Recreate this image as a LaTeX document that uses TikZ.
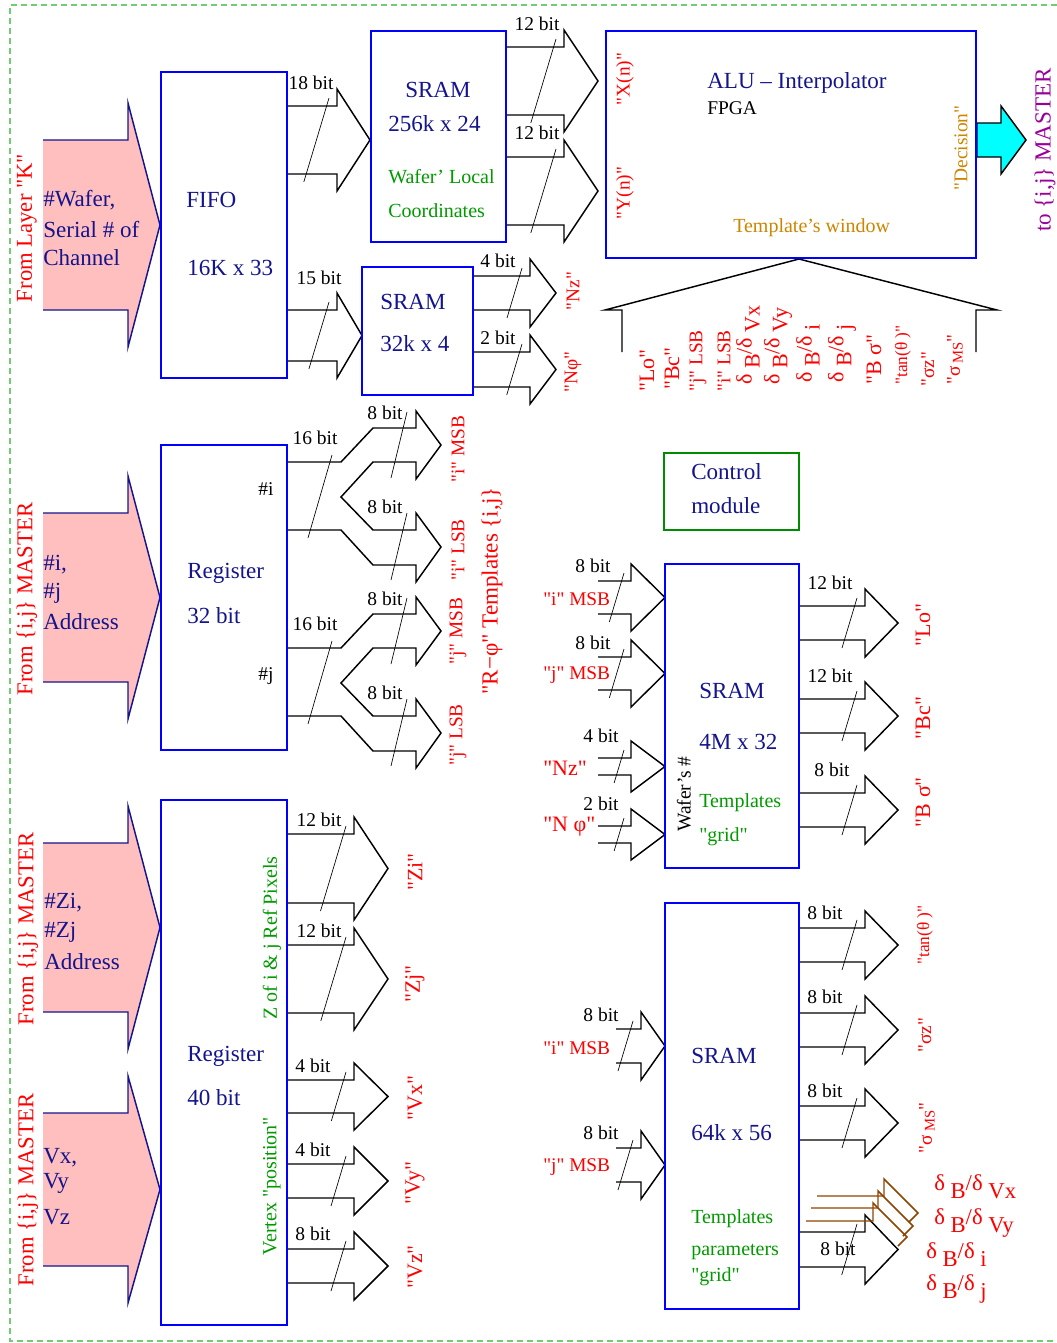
\documentclass[tikz,border=0pt]{standalone}
\usepackage{fontspec}
\setmainfont{Liberation Serif}[Ligatures=TeXOff]
\usepackage{xcolor}
\definecolor{UnitBlue}{rgb}{0, 0, 1}
\definecolor{NavyInk}{rgb}{0.08, 0.08, 0.55}
\definecolor{InPink}{rgb}{1, 0.75, 0.75}
\definecolor{TplGreen}{rgb}{0, 0.6, 0}
\definecolor{CtrlGreen}{rgb}{0, 0.55, 0}
\definecolor{FrameGreen}{rgb}{0.45, 0.8, 0.45}
\definecolor{WinOrange}{rgb}{0.8, 0.52, 0}
\definecolor{MasterPurple}{rgb}{0.6, 0, 0.6}
\definecolor{ParBrown}{rgb}{0.55, 0.27, 0}
\definecolor{DecCyan}{rgb}{0, 1, 1}

% bus arrow: x start, upper y, lower y, head base x, tip x, slash top x
\newcommand{\busarrow}[6]{%
  \draw[bus] (#1,#2) -- (#4,#2) -- (#4,#2-17) -- (#5,{(#2+#3)/2}) -- (#4,#3+17) -- (#4,#3) -- (#1,#3);
  \draw[slash] (#6,#2-8) -- ({#6-0.3*(#3-#2+16)},#3+8);
}
% pink input arrow: body top y, body bottom y
\newcommand{\inarrow}[2]{%
  \fill[InPink] (43,#1) -- (128,#1) -- (128,#1-37) -- (160,{(#1+#2)/2}) -- (128,#2+37) -- (128,#2) -- (43,#2) -- cycle;
  \draw[inline] (43,#1) -- (128,#1) -- (128,#1-37) -- (160,{(#1+#2)/2}) -- (128,#2+37) -- (128,#2) -- (43,#2);
}
\newcommand{\dBd}[1]{\raisebox{6pt}{δ} B\raisebox{6pt}{/δ} #1}

\tikzset{
  unit/.style={draw=UnitBlue, line width=2.2pt},
  ctrlunit/.style={draw=CtrlGreen, line width=2.2pt},
  bus/.style={draw=black, line width=1.1pt},
  parbus/.style={draw=ParBrown, line width=1.1pt},
  inline/.style={draw=NavyInk, line width=1.1pt},
  slash/.style={draw=black, line width=0.5pt},
  frame/.style={draw=FrameGreen, line width=0.8pt, dash pattern={on 4.5pt off 3pt}},
  navytext/.style={anchor=west, inner sep=0pt, text=NavyInk, font=\fontsize{17.3}{20}\selectfont},
  greentext/.style={inner sep=0pt, text=TplGreen, font=\fontsize{15}{18}\selectfont},
  bittext/.style={inner sep=0pt, font=\fontsize{14.6}{17}\selectfont},
  redtext/.style={inner sep=0pt, text=red, font=\fontsize{16.5}{19}\selectfont},
  redsmall/.style={inner sep=0pt, text=red, font=\fontsize{14.5}{17}\selectfont},
  upright/.style={rotate=90},
}

\begin{document}
\begin{tikzpicture}[x=0.75pt,y=0.75pt,yscale=-1,xscale=1]
\useasboundingbox (0,0) rectangle (1057,1343);

%Dashed frame
\draw[frame] (1057,5) -- (10,5) -- (10,1341) -- (1057,1341);

%Input arrows
\inarrow{140}{310}
\inarrow{513}{682}
\inarrow{843}{1012}
\inarrow{1113}{1266}

%FIFO outputs
\busarrow{287}{106}{174}{337}{370}{329}
\busarrow{287}{310}{361}{337}{362}{329}
%SRAM 256k outputs
\busarrow{506}{47}{115}{564}{598}{556}
\busarrow{506}{157}{225}{564}{598}{556}
%SRAM 32k outputs
\busarrow{473}{276}{310}{530}{556}{522}
\busarrow{473}{352}{387}{530}{556}{522}
%SRAM 4M inputs
\busarrow{598}{581}{614}{631}{665}{624}
\busarrow{598}{657}{690}{631}{665}{624}
\busarrow{598}{758}{775}{631}{665}{624}
\busarrow{598}{826}{843}{631}{665}{624}
%SRAM 4M outputs
\busarrow{799}{606}{640}{865}{898}{857}
\busarrow{799}{699}{733}{865}{898}{857}
\busarrow{799}{793}{827}{865}{898}{857}
%SRAM 64k inputs
\busarrow{616}{1029}{1063}{641}{665}{633}
\busarrow{616}{1148}{1182}{641}{665}{633}
%SRAM 64k outputs
\busarrow{799}{928}{962}{865}{898}{857}
\busarrow{799}{1013}{1047}{865}{898}{857}
\busarrow{799}{1106}{1140}{865}{898}{857}
\busarrow{799}{1232}{1267}{865}{898}{857}
%Register 40 outputs
\busarrow{287}{834}{903}{354}{388}{346}
\busarrow{287}{945}{1013}{354}{388}{346}
\busarrow{287}{1080}{1113}{354}{388}{346}
\busarrow{287}{1164}{1198}{354}{388}{346}
\busarrow{287}{1249}{1283}{354}{388}{346}

%Split bus #i
\draw[bus] (287,462) -- (341,462) -- (373,428) -- (416,428) -- (416,411) -- (441,445) -- (416,479) -- (416,462) -- (373,462) -- (341,497) -- (373,530) -- (416,530) -- (416,513) -- (441,547) -- (416,582) -- (416,565) -- (373,565) -- (341,530) -- (287,530);
\draw[slash] (332,455) -- (308,538);
\draw[slash] (407,412) -- (391,478);
\draw[slash] (407,513) -- (391,580);
%Split bus #j
\draw[bus] (287,648) -- (341,648) -- (373,614) -- (416,614) -- (416,597) -- (441,631) -- (416,665) -- (416,648) -- (373,648) -- (341,683) -- (373,716) -- (416,716) -- (416,699) -- (441,733) -- (416,768) -- (416,751) -- (373,751) -- (341,716) -- (287,716);
\draw[slash] (332,641) -- (308,724);
\draw[slash] (407,598) -- (391,664);
\draw[slash] (407,699) -- (391,766);

%Decision arrow
\draw[draw=black, fill=DecCyan, line width=1.1pt] (977,123) -- (1001,123) -- (1001,106) -- (1026,140) -- (1001,174) -- (1001,157) -- (977,157) -- cycle;

%Parameter arrows
\draw[parbus] (817,1196) -- (884,1196) -- (884,1179) -- (918,1213) -- (909,1222);
\draw[parbus] (811,1208) -- (878,1208) -- (878,1191) -- (913,1226) -- (903,1236);
\draw[parbus] (806,1221) -- (873,1221) -- (873,1203) -- (907,1237) -- (898,1246);

%Template's window bracket
\draw[bus] (622,352) -- (622,310) -- (605,310) -- (799,259) -- (997,310) -- (976,310) -- (976,352);

%Shape: Rectangles
\draw[unit] (161,72) rectangle (287,378);
\draw[unit] (371,31) rectangle (506,242);
\draw[unit] (362,267) rectangle (473,395);
\draw[unit] (606,31) rectangle (976,258);
\draw[ctrlunit] (664,453) rectangle (799,530);
\draw[unit] (161,445) rectangle (287,750);
\draw[unit] (665,564) rectangle (799,868);
\draw[unit] (161,800) rectangle (287,1325);
\draw[unit] (665,903) rectangle (799,1309);

% Text Node
\node[navytext] (fifoA) at (186,200) {FIFO};
\node[navytext] (fifoB) at (187,268) {16K x 33};
\node[navytext] (sramA) at (405,90) {SRAM};
\node[navytext] (sramB) at (388,124) {256k x 24};
\node[navytext] (smallA) at (380,302) {SRAM};
\node[navytext] (smallB) at (380,344) {32k x 4};
\node[navytext] (alu) at (707,83) {ALU – Interpolator};
\node[navytext] (ctrlA) at (691,472) {Control};
\node[navytext] (ctrlB) at (691,506) {module};
\node[navytext] (regA) at (187,573) {Register};
\node[navytext] (regB) at (187,616) {32 bit};
\node[navytext] (bigA) at (699,691) {SRAM};
\node[navytext] (bigB) at (699,742) {4M x 32};
\node[navytext] (regC) at (187,1056) {Register};
\node[navytext] (regD) at (187,1098) {40 bit};
\node[navytext] (parA) at (691,1056) {SRAM};
\node[navytext] (parB) at (691,1133) {64k x 56};
% Text Node
\node[navytext] (inA1) at (43,200) {\#Wafer,};
\node[navytext] (inA2) at (43,229) {Serial \# of};
\node[navytext] (inA3) at (43,258) {Channel};
\node[navytext] (inB1) at (43,565) {\#i,};
\node[navytext] (inB2) at (43,593) {\#j};
\node[navytext] (inB3) at (43,622) {Address};
\node[navytext] (inC1) at (44,903) {\#Zi,};
\node[navytext] (inC2) at (44,932) {\#Zj};
\node[navytext] (inC3) at (44,962) {Address};
\node[navytext] (inD1) at (43,1158) {Vx,};
\node[navytext] (inD2) at (43,1183) {Vy};
\node[navytext] (inD3) at (43,1217) {Vz};
% Text Node
\node[greentext, anchor=west] (wafA) at (388,177) {Wafer’ Local};
\node[greentext, anchor=west] (wafB) at (388,211) {Coordinates};
\node[greentext, anchor=west] (gridA) at (699,803) {Templates};
\node[greentext, anchor=west] (gridB) at (699,837) {"grid"};
\node[greentext, anchor=west] (gridC) at (691,1219) {Templates};
\node[greentext, anchor=west] (gridD) at (691,1252) {parameters};
\node[greentext, anchor=west] (gridE) at (691,1277) {"grid"};
\node[greentext, upright] (zref) at (272,938) {Z of i \& j Ref Pixels};
\node[greentext, upright] (vtx) at (272,1186) {Vertex "position"};
% Text Node
\node[bittext, anchor=west] (fpga) at (707,108) {FPGA};
\node[bittext, anchor=west] (hashi) at (258,489) {\#i};
\node[bittext, anchor=west] (hashj) at (258,676) {\#j};
\node[bittext, upright] (wnum) at (684,794) {Wafer’s \#};
\node[greentext, anchor=west, text=WinOrange] (window) at (733,228) {Template’s window};
\node[bittext, upright, text=WinOrange] (decision) at (961,148) {"Decision"};
\node[navytext, anchor=center, upright, text=MasterPurple] (tomaster) at (1045,150) {to \{i,j\} MASTER};
% Text Node
\node[bittext] (b18) at (311,83) {18 bit};
\node[bittext] (b15) at (319,278) {15 bit};
\node[bittext] (bX) at (537,24) {12 bit};
\node[bittext] (bY) at (537,133) {12 bit};
\node[bittext] (bNz) at (498,261) {4 bit};
\node[bittext] (bNp) at (498,338) {2 bit};
\node[bittext] (bi16) at (315,438) {16 bit};
\node[bittext] (bi8a) at (385,413) {8 bit};
\node[bittext] (bi8b) at (385,507) {8 bit};
\node[bittext] (bj16) at (315,624) {16 bit};
\node[bittext] (bj8a) at (385,599) {8 bit};
\node[bittext] (bj8b) at (385,693) {8 bit};
\node[bittext] (bgi) at (593,566) {8 bit};
\node[bittext] (bgj) at (593,643) {8 bit};
\node[bittext] (bgz) at (601,736) {4 bit};
\node[bittext] (bgp) at (601,804) {2 bit};
\node[bittext] (bLo) at (830,583) {12 bit};
\node[bittext] (bBc) at (830,676) {12 bit};
\node[bittext] (bBs) at (832,770) {8 bit};
\node[bittext] (bpi) at (601,1015) {8 bit};
\node[bittext] (bpj) at (601,1133) {8 bit};
\node[bittext] (bth) at (825,913) {8 bit};
\node[bittext] (bsz) at (825,997) {8 bit};
\node[bittext] (bms) at (825,1091) {8 bit};
\node[bittext] (bdb) at (838,1249) {8 bit};
\node[bittext] (bZi) at (319,820) {12 bit};
\node[bittext] (bZj) at (319,931) {12 bit};
\node[bittext] (bVx) at (313,1066) {4 bit};
\node[bittext] (bVy) at (313,1150) {4 bit};
\node[bittext] (bVz) at (313,1234) {8 bit};
% Text Node
\node[redtext, upright, font=\fontsize{17}{20}\selectfont] (fromK) at (27,228) {From Layer "K"};
\node[redtext, upright, font=\fontsize{17}{20}\selectfont] (fromA) at (27,599) {From \{i,j\} MASTER};
\node[redtext, upright, font=\fontsize{17}{20}\selectfont] (fromB) at (28,929) {From \{i,j\} MASTER};
\node[redtext, upright, font=\fontsize{17}{20}\selectfont] (fromC) at (28,1190) {From \{i,j\} MASTER};
\node[redsmall, upright] (xn) at (625,79) {"X(n)"};
\node[redsmall, upright] (yn) at (625,193) {"Y(n)"};
\node[redsmall, upright] (nzA) at (573,291) {"Nz"};
\node[redsmall, upright] (npA) at (573,372) {"Nφ"};
\node[redsmall, upright] (imsb) at (458,449) {"i" MSB};
\node[redsmall, upright] (ilsb) at (458,550) {"i" LSB};
\node[redsmall, upright] (jmsb) at (458,631) {"j" MSB};
\node[redsmall, upright] (jlsb) at (458,735) {"j" LSB};
\node[redtext, upright, font=\fontsize{17.3}{20}\selectfont] (rphi) at (492,591) {"R−φ" Templates \{i,j\}};
% Text Node
\node[redsmall, anchor=west] (gi) at (543,599) {"i" MSB};
\node[redsmall, anchor=west] (gj) at (543,675) {"j" MSB};
\node[redtext, anchor=west] (gz) at (543,768) {"Nz"};
\node[redtext, anchor=west] (gp) at (543,827) {"N φ"};
\node[redsmall, anchor=west] (pi) at (543,1048) {"i" MSB};
\node[redsmall, anchor=west] (pj) at (543,1167) {"j" MSB};
\node[redtext, upright] (oLo) at (923,625) {"Lo"};
\node[redtext, upright] (oBc) at (923,718) {"Bc"};
\node[redtext, upright] (oBs) at (923,802) {"B σ"};
\node[redtext, upright, font=\fontsize{13}{16}\selectfont] (oth) at (925,935) {"tan(θ )"};
\node[redsmall, upright] (osz) at (925,1035) {"σz"};
\node[redsmall, upright] (oms) at (927,1128) {"σ\,\raisebox{-2pt}{\fontsize{11}{13}\selectfont MS}"};
\node[redtext, upright] (oZi) at (415,872) {"Zi"};
\node[redtext, upright] (oZj) at (415,984) {"Zj"};
\node[redtext, upright] (oVx) at (415,1098) {"Vx"};
\node[redtext, upright] (oVy) at (415,1183) {"Vy"};
\node[redtext, upright] (oVz) at (415,1267) {"Vz"};
% Text Node
\node[redtext, anchor=base west, font=\fontsize{17}{20}\selectfont] (dvx) at (934,1198) {\dBd{Vx}};
\node[redtext, anchor=base west, font=\fontsize{17}{20}\selectfont] (dvy) at (934,1232) {\dBd{Vy}};
\node[redtext, anchor=base west, font=\fontsize{17}{20}\selectfont] (ddi) at (926,1266) {\dBd{i}};
\node[redtext, anchor=base west, font=\fontsize{17}{20}\selectfont] (ddj) at (926,1298) {\dBd{j}};
% Text Node
\node[redtext, upright, anchor=west] (wLo) at (647,392) {"Lo"};
\node[redtext, upright, anchor=west] (wBc) at (672,390) {"Bc"};
\node[redsmall, upright, anchor=west] (wjl) at (698,392) {"j" LSB};
\node[redsmall, upright, anchor=west] (wil) at (724,392) {"i" LSB};
\node[redtext, upright, anchor=west] (wvx) at (748,385) {\dBd{Vx}};
\node[redtext, upright, anchor=west] (wvy) at (778,385) {\dBd{Vy}};
\node[redtext, upright, anchor=west] (wdi) at (808,383) {\dBd{i}};
\node[redtext, upright, anchor=west] (wdj) at (842,383) {\dBd{j}};
\node[redtext, upright, anchor=west] (wBs) at (874,385) {"B σ"};
\node[redtext, upright, anchor=west, font=\fontsize{13}{16}\selectfont] (wth) at (903,385) {"tan(θ )"};
\node[redsmall, upright, anchor=west] (wsz) at (928,387) {"σz"};
\node[redsmall, upright, anchor=west] (wms) at (955,385) {"σ\,\raisebox{-2pt}{\fontsize{11}{13}\selectfont MS}"};

\end{tikzpicture}
\end{document}
